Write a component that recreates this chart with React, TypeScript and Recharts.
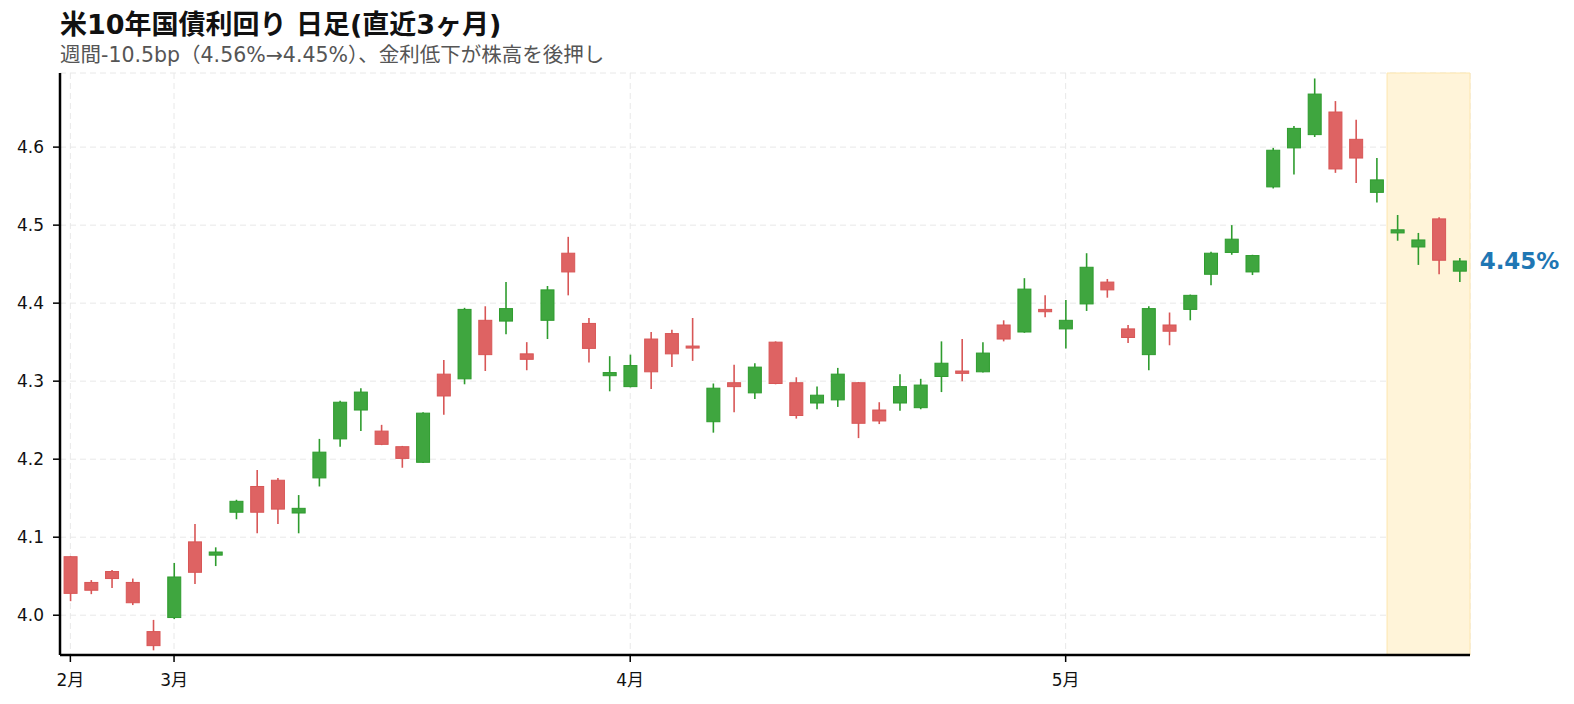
import React from 'react';
import {
  ComposedChart,
  Bar,
  XAxis,
  YAxis,
  CartesianGrid,
  ReferenceArea,
  ReferenceDot,
} from 'recharts';

// trading days, Feb 23 - May 29
const DATES = [
  '02-23', '02-24', '02-25', '02-26', '02-27',
  '03-02', '03-03', '03-04', '03-05', '03-06', '03-09', '03-10', '03-11', '03-12', '03-13',
  '03-16', '03-17', '03-18', '03-19', '03-20', '03-23', '03-24', '03-25', '03-26', '03-27',
  '03-30', '03-31',
  '04-01', '04-02', '04-06', '04-07', '04-08', '04-09', '04-10', '04-13', '04-14', '04-15',
  '04-16', '04-17', '04-20', '04-21', '04-22', '04-23', '04-24', '04-27', '04-28', '04-29',
  '04-30',
  '05-01', '05-04', '05-05', '05-06', '05-07', '05-08', '05-11', '05-12', '05-13', '05-14',
  '05-15', '05-18', '05-19', '05-20', '05-21', '05-22', '05-26', '05-27', '05-28', '05-29',
];

const OPEN = [
  4.075, 4.042, 4.056, 4.042, 3.979, 3.997, 4.094, 4.077, 4.132, 4.165,
  4.173, 4.131, 4.176, 4.226, 4.263, 4.236, 4.216, 4.196, 4.309, 4.303,
  4.378, 4.377, 4.335, 4.378, 4.464, 4.374, 4.307, 4.293, 4.354, 4.361,
  4.345, 4.248, 4.298, 4.285, 4.350, 4.298, 4.272, 4.276, 4.298, 4.263,
  4.272, 4.266, 4.306, 4.313, 4.312, 4.372, 4.363, 4.392, 4.367, 4.399,
  4.427, 4.367, 4.334, 4.372, 4.392, 4.437, 4.465, 4.440, 4.549, 4.599,
  4.616, 4.645, 4.610, 4.542, 4.490, 4.472, 4.508, 4.441,
];
const HIGH = [
  4.076, 4.045, 4.058, 4.047, 3.994, 4.067, 4.117, 4.087, 4.148, 4.186,
  4.176, 4.154, 4.226, 4.275, 4.291, 4.244, 4.217, 4.260, 4.327, 4.394,
  4.396, 4.427, 4.350, 4.422, 4.485, 4.381, 4.332, 4.334, 4.363, 4.366,
  4.381, 4.297, 4.321, 4.323, 4.351, 4.305, 4.293, 4.317, 4.299, 4.273,
  4.309, 4.303, 4.351, 4.354, 4.350, 4.378, 4.432, 4.410, 4.404, 4.464,
  4.431, 4.372, 4.396, 4.388, 4.411, 4.466, 4.500, 4.462, 4.599, 4.627,
  4.688, 4.659, 4.635, 4.586, 4.513, 4.490, 4.510, 4.458,
];
const LOW = [
  4.018, 4.027, 4.035, 4.013, 3.955, 3.995, 4.040, 4.063, 4.123, 4.105,
  4.117, 4.105, 4.165, 4.216, 4.236, 4.218, 4.189, 4.195, 4.257, 4.296,
  4.313, 4.360, 4.314, 4.354, 4.410, 4.324, 4.287, 4.292, 4.290, 4.318,
  4.326, 4.234, 4.260, 4.277, 4.296, 4.252, 4.264, 4.267, 4.227, 4.245,
  4.262, 4.264, 4.286, 4.300, 4.311, 4.351, 4.362, 4.382, 4.342, 4.390,
  4.407, 4.349, 4.314, 4.346, 4.378, 4.423, 4.462, 4.436, 4.547, 4.565,
  4.613, 4.567, 4.554, 4.529, 4.480, 4.449, 4.437, 4.427,
];
const CLOSE = [
  4.028, 4.032, 4.047, 4.016, 3.961, 4.049, 4.055, 4.081, 4.146, 4.132,
  4.136, 4.137, 4.209, 4.273, 4.286, 4.219, 4.201, 4.259, 4.281, 4.392,
  4.334, 4.393, 4.328, 4.417, 4.440, 4.342, 4.311, 4.320, 4.312, 4.335,
  4.343, 4.291, 4.293, 4.318, 4.297, 4.256, 4.282, 4.309, 4.246, 4.249,
  4.293, 4.295, 4.323, 4.310, 4.336, 4.354, 4.418, 4.389, 4.378, 4.446,
  4.417, 4.356, 4.393, 4.364, 4.410, 4.464, 4.482, 4.461, 4.596, 4.624,
  4.668, 4.572, 4.586, 4.558, 4.494, 4.481, 4.455, 4.454,
];

const MONTH_TICKS = ['02-23', '03-02', '04-01', '05-01'];
const Y_TICKS = [4.0, 4.1, 4.2, 4.3, 4.4, 4.5, 4.6];
const WEEK_START = '05-26';
const WEEK_END = '05-29';

const UP_FILL = '#3fa63f';
const UP_EDGE = '#2e9c2e';
const DOWN_FILL = '#de6363';
const DOWN_EDGE = '#d85656';

const FONT = "'DejaVu Sans', 'Noto Sans CJK JP', sans-serif";

const Candle = (props: any) => {
  const { x, y, width, height, payload } = props;
  if (!payload) return null;
  const { open, close, high, low } = payload;
  const up = close >= open;
  const top = Math.min(y, y + height);
  const h = Math.abs(height);
  const ratio = h / (high - low || 1e-6);
  const cx = x + width / 2;
  const bodyTop = top + (high - Math.max(open, close)) * ratio;
  const bodyBottom = top + (high - Math.min(open, close)) * ratio;
  const bodyH = Math.max(bodyBottom - bodyTop, 2);
  const bw = 13;
  const edge = up ? UP_EDGE : DOWN_EDGE;
  return (
    <g>
      <line x1={cx} x2={cx} y1={top} y2={top + h} stroke={edge} strokeWidth={1.6} />
      <rect
        x={cx - bw / 2}
        y={bodyTop}
        width={bw}
        height={bodyH}
        fill={up ? UP_FILL : DOWN_FILL}
        stroke={edge}
        strokeWidth={1}
      />
    </g>
  );
};

export default function App() {
  const data = DATES.map((date, i) => ({
    date,
    open: OPEN[i],
    high: HIGH[i],
    low: LOW[i],
    close: CLOSE[i],
  }));
  const last = data[data.length - 1];

  return (
    <div
      style={{
        position: 'absolute',
        left: 0,
        top: 0,
        width: 1574,
        height: 704,
        background: '#fff',
        fontFamily: FONT,
      }}
    >
      <div
        style={{
          position: 'absolute',
          left: 60,
          top: 11,
          fontSize: 27,
          lineHeight: 1,
          fontWeight: 'bold',
          color: '#111',
          whiteSpace: 'nowrap',
        }}
      >
        米10年国債利回り 日足(直近3ヶ月)
      </div>
      <div
        style={{
          position: 'absolute',
          left: 60,
          top: 45,
          fontSize: 20.5,
          lineHeight: 1,
          color: '#555',
          whiteSpace: 'nowrap',
        }}
      >
        週間-10.5bp（4.56%→4.45%）、金利低下が株高を後押し
      </div>
      <ComposedChart
        width={1574}
        height={704}
        data={data}
        margin={{ top: 73, right: 104, bottom: 19, left: 10 }}
      >
        <ReferenceArea
          x1={WEEK_START}
          x2={WEEK_END}
          fill="#fff4d9"
          fillOpacity={1}
          stroke="#fde6ad"
          strokeWidth={1}
        />
        <CartesianGrid stroke="#e8e8e8" strokeDasharray="6 4" />
        <XAxis
          dataKey="date"
          type="category"
          ticks={MONTH_TICKS}
          interval={0}
          height={30}
          tickFormatter={(d: string) => `${parseInt(d.slice(0, 2), 10)}月`}
          tick={{ fill: '#111', fontSize: 17 }}
          tickSize={7}
          tickMargin={12}
          axisLine={{ stroke: '#000', strokeWidth: 2.5 }}
          tickLine={{ stroke: '#000', strokeWidth: 1.5 }}
        />
        <YAxis
          type="number"
          width={50}
          domain={[3.949, 4.695]}
          allowDataOverflow
          ticks={Y_TICKS}
          interval={0}
          tickFormatter={(v: number) => v.toFixed(1)}
          tick={{ fill: '#111', fontSize: 17 }}
          tickSize={7}
          tickMargin={9}
          axisLine={{ stroke: '#000', strokeWidth: 2.5 }}
          tickLine={{ stroke: '#000', strokeWidth: 1.5 }}
        />
        <Bar
          dataKey={(d: any) => [d.low, d.high]}
          shape={(p: any) => <Candle {...p} />}
          isAnimationActive={false}
        />
        <ReferenceDot
          x={last.date}
          y={last.close}
          r={0}
          fill="none"
          stroke="none"
          label={{
            value: `${last.close.toFixed(2)}%`,
            position: 'right',
            offset: 20,
            fill: '#1f77b4',
            fontSize: 23,
            fontWeight: 'bold',
          }}
        />
      </ComposedChart>
    </div>
  );
}
